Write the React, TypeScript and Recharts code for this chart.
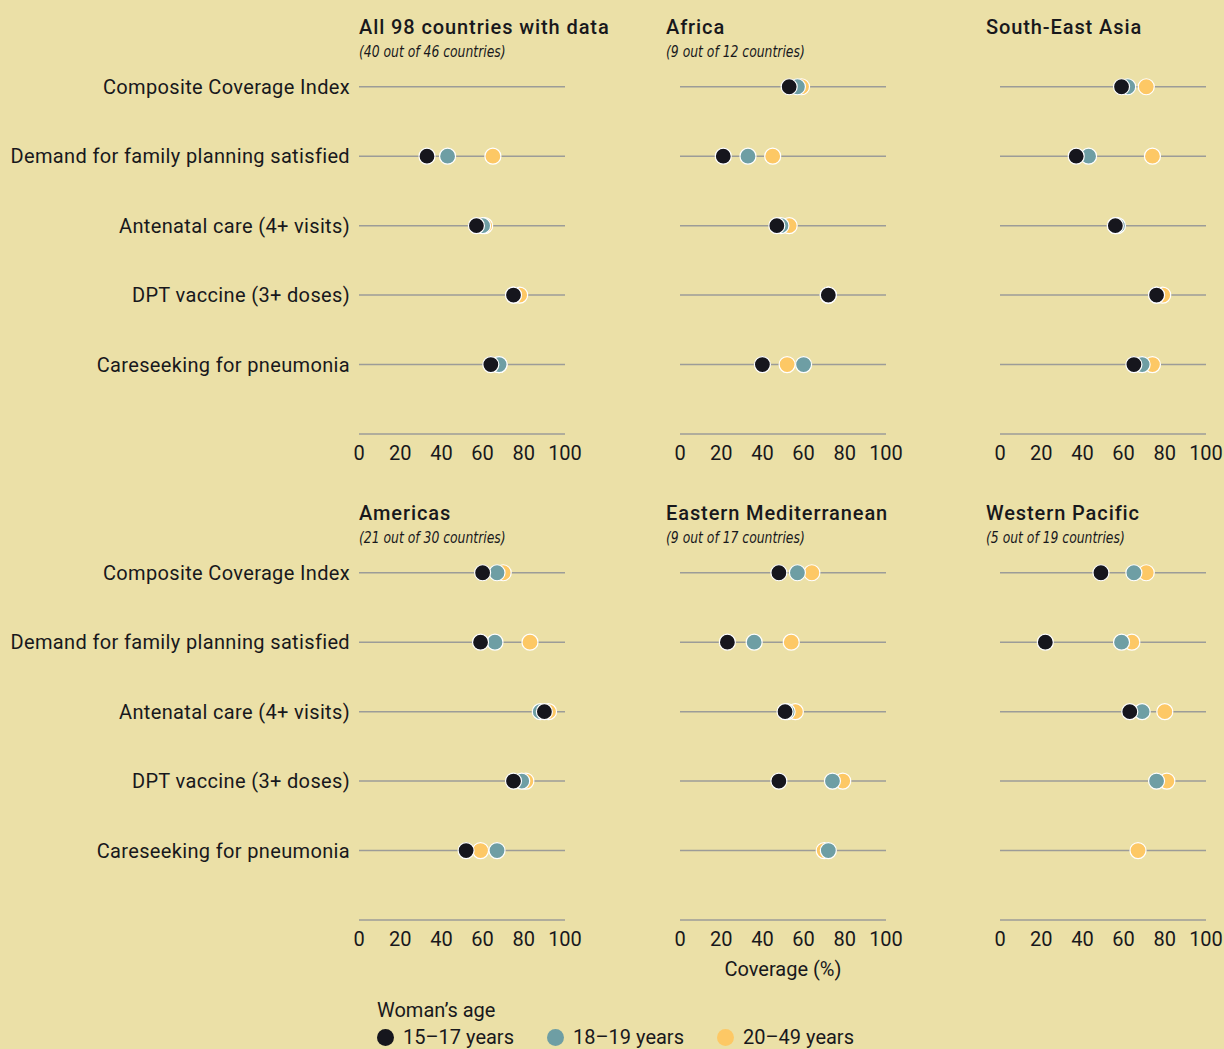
import { ScatterChart, Scatter, XAxis, YAxis, ReferenceLine } from "recharts";

const indicators = [
  "Composite Coverage Index",
  "Demand for family planning satisfied",
  "Antenatal care (4+ visits)",
  "DPT vaccine (3+ doses)",
  "Careseeking for pneumonia",
];
const xTicks = [0, 20, 40, 60, 80, 100];
const ageGroups = ["15–17 years", "18–19 years", "20–49 years"];

// values per indicator, null = no data
const all15 = [null, 33, 57, 75, 64];
const all18 = [null, 43, 60, 75, 68];
const all20 = [null, 65, 61, 78, 68];

const africa15 = [53, 21, 47, 72, 40];
const africa18 = [57, 33, 49, 72, 60];
const africa20 = [59, 45, 53, 72, 52];

const seAsia15 = [59, 37, 56, 76, 65];
const seAsia18 = [62, 43, 57, 76, 69];
const seAsia20 = [71, 74, 56, 79, 74];

const americas15 = [60, 59, 90, 75, 52];
const americas18 = [67, 66, 88, 79, 67];
const americas20 = [70, 83, 92, 81, 59];

const eastMed15 = [48, 23, 51, 48, null];
const eastMed18 = [57, 36, 52, 74, 72];
const eastMed20 = [64, 54, 56, 79, 70];

const westPac15 = [49, 22, 63, null, null];
const westPac18 = [65, 59, 69, 76, null];
const westPac20 = [71, 64, 80, 81, 67];

const BG = "#ebe0a7";
const INK = "#18181c";
const COLORS = ["#16161d", "#6e9ea4", "#fdc865"];
const GRID = "#9c9c98";
const FONT = "Roboto, 'DejaVu Sans', sans-serif";

const toPoints = (vals: (number | null)[]) =>
  vals.map((v, i) => ({ value: v, row: i })).filter((d) => d.value !== null);

const Dot = (color: string) => (props: any) => (
  <circle cx={props.cx} cy={props.cy} r={8} fill={color} stroke="#fff" strokeWidth={1.2} />
);

interface PanelProps {
  title: string;
  subtitle?: string;
  left: number;
  top: number;
  labels: boolean;
  series: (number | null)[][];
}

function Panel({ title, subtitle, left, top, labels, series }: PanelProps) {
  const plotLeft = labels ? 359 : left + 20;
  const titleLeft = labels ? 359 : plotLeft - 14;
  const chartLeft = labels ? 0 : left;
  const width = labels ? 590 : 246;
  // draw order: youngest group on top
  const order = [2, 1, 0];
  return (
    <>
      <div
        style={{
          position: "absolute",
          left: titleLeft,
          top: top - 24,
          fontFamily: FONT,
          fontSize: 20,
          fontWeight: 500,
          letterSpacing: 0.9,
          lineHeight: "22px",
          color: INK,
          whiteSpace: "nowrap",
        }}
      >
        {title}
      </div>
      {subtitle && (
        <div
          style={{
            position: "absolute",
            left: titleLeft,
            top: top + 3,
            fontFamily: "'Liberation Sans Narrow', 'DejaVu Sans Condensed', sans-serif",
            fontStyle: "italic",
            fontSize: 16,
            lineHeight: "18px",
            color: INK,
            whiteSpace: "nowrap",
            transform: "scaleX(0.86)",
            transformOrigin: "left center",
          }}
        >
          {subtitle}
        </div>
      )}
      <div style={{ position: "absolute", left: chartLeft, top: top }}>
        <ScatterChart
          width={width}
          height={434}
          margin={{ top: 12, right: labels ? 25 : 20, left: labels ? 0 : 20, bottom: 0 }}
        >
          <XAxis
            type="number"
            dataKey="value"
            domain={[0, 100]}
            ticks={xTicks}
            interval={0}
            tickLine={false}
            tickSize={0}
            tickMargin={12}
            axisLine={{ stroke: GRID, strokeWidth: 1.5 }}
            height={40}
            tick={{ fill: INK, fontSize: 20, fontFamily: FONT }}
          />
          <YAxis
            type="number"
            dataKey="row"
            domain={[-0.5, 5]}
            reversed
            ticks={[0, 1, 2, 3, 4]}
            interval={0}
            tickFormatter={(i: number) => indicators[i] ?? ""}
            axisLine={false}
            tickLine={false}
            tickSize={0}
            tickMargin={9}
            width={labels ? 359 : 0}
            hide={!labels}
            tick={{ fill: INK, fontSize: 20, fontFamily: FONT, letterSpacing: 0.35 }}
          />
          {indicators.map((name, i) => (
            <ReferenceLine key={name} y={i} stroke={GRID} strokeWidth={1.5} />
          ))}
          {order.map((g) => (
            <Scatter
              key={g}
              name={ageGroups[g]}
              data={toPoints(series[g])}
              shape={Dot(COLORS[g])}
              isAnimationActive={false}
            />
          ))}
        </ScatterChart>
      </div>
    </>
  );
}

export default function App() {
  return (
    <div
      style={{
        position: "absolute",
        left: 0,
        top: 0,
        width: 1224,
        height: 1049,
        background: BG,
        overflow: "hidden",
        fontFamily: FONT,
        color: INK,
      }}
    >
      <Panel title="All 98 countries with data" subtitle="(40 out of 46 countries)" left={0} top={40} labels series={[all15, all18, all20]} />
      <Panel title="Africa" subtitle="(9 out of 12 countries)" left={660} top={40} labels={false} series={[africa15, africa18, africa20]} />
      <Panel title="South-East Asia" left={980} top={40} labels={false} series={[seAsia15, seAsia18, seAsia20]} />
      <Panel title="Americas" subtitle="(21 out of 30 countries)" left={0} top={526} labels series={[americas15, americas18, americas20]} />
      <Panel title="Eastern Mediterranean" subtitle="(9 out of 17 countries)" left={660} top={526} labels={false} series={[eastMed15, eastMed18, eastMed20]} />
      <Panel title="Western Pacific" subtitle="(5 out of 19 countries)" left={980} top={526} labels={false} series={[westPac15, westPac18, westPac20]} />

      <div style={{ position: "absolute", left: 683, width: 200, top: 957, textAlign: "center", fontSize: 20, lineHeight: "24px" }}>
        Coverage (%)
      </div>

      <div style={{ position: "absolute", left: 377, top: 999, fontSize: 20, lineHeight: "22px" }}>Woman’s age</div>
      <div style={{ position: "absolute", left: 377, top: 1027, display: "flex", fontSize: 20, lineHeight: "20px" }}>
        {ageGroups.map((g, i) => (
          <div key={g} style={{ display: "flex", alignItems: "center", width: 170 }}>
            <span
              style={{
                display: "inline-block",
                width: 17,
                height: 17,
                borderRadius: "50%",
                background: COLORS[i],
                marginRight: 9,
              }}
            />
            {g}
          </div>
        ))}
      </div>
    </div>
  );
}
